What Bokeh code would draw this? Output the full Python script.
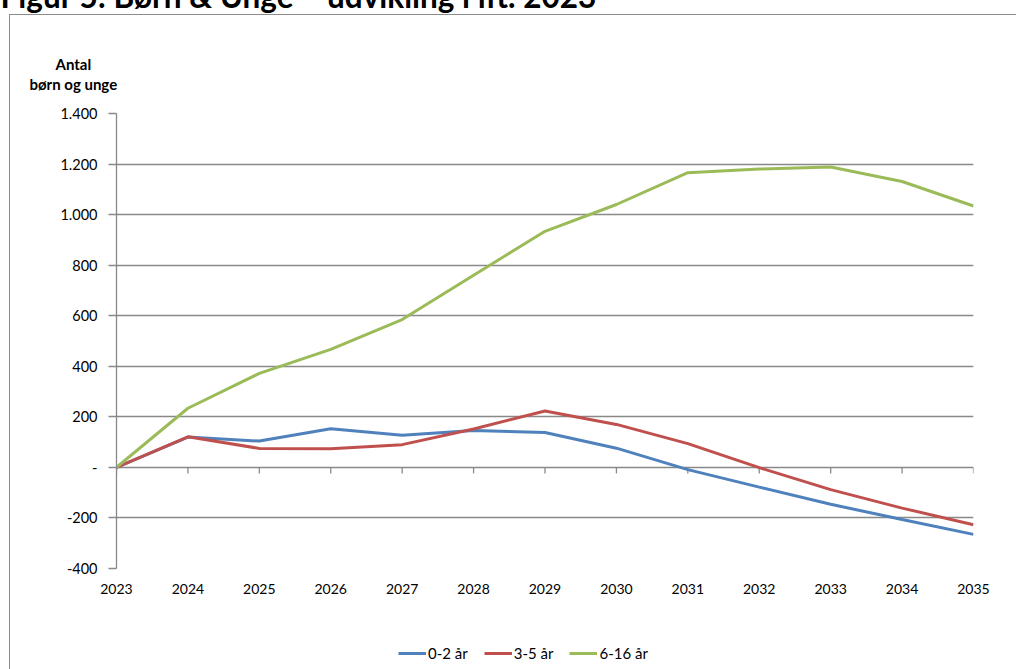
from bokeh.plotting import figure
from bokeh.layouts import column
from bokeh.models import Range1d, FixedTicker, Legend, LegendItem, Title, InlineStyleSheet
from bokeh.embed import file_html
from bokeh.resources import INLINE

# Change in number of children and young people relative to 2023
years = [2023, 2024, 2025, 2026, 2027, 2028, 2029, 2030, 2031, 2032, 2033, 2034, 2035]
age_0_2 = [0, 120, 104, 153, 127, 146, 138, 76, -9, -78, -146, -206, -265]
age_3_5 = [0, 121, 75, 74, 90, 152, 223, 170, 94, -1, -88, -161, -227]
age_6_16 = [0, 234, 372, 467, 585, 760, 934, 1040, 1166, 1180, 1188, 1131, 1034]

series_names = ["0-2 år", "3-5 år", "6-16 år"]
series_colors = ["#4F81BD", "#C0504D", "#9BBB59"]
series_values = [age_0_2, age_3_5, age_6_16]

y_ticks = [-400, -200, 0, 200, 400, 600, 800, 1000, 1200, 1400]
y_tick_labels = ["-400", "-200", "-", "200", "400", "600", "800", "1.000", "1.200", "1.400"]

title_text = "Figur 5: Børn & Unge – udvikling i ift. 2023"
y_title = ["Antal", "børn og unge"]

FONT = "Lato"
GRID = "#898989"
FRAME = "#8c8c8c"

W, H = 1016, 669
SHIFT = 24                      # page is pulled up so the caption runs off the top
LEG_H = 39                      # strip under the chart holding the legend
left, right, top, bottom = 116, 43, 113 + SHIFT, 62

p = figure(width=W, height=H + SHIFT - LEG_H, output_backend="svg", toolbar_location=None,
           title_location=None,
           x_range=Range1d(years[0], years[-1]),
           y_range=Range1d(y_ticks[0], y_ticks[-1]),
           min_border_left=left, min_border_right=right,
           min_border_top=top, min_border_bottom=bottom)
p.outline_line_color = None
p.background_fill_color = "white"
p.border_fill_color = "white"

# outer chart frame (left and top edges; the rest runs past the page)
p.stylesheets = [InlineStyleSheet(css=f"""
:host {{ position: relative; }}
:host::after {{
  content: ""; position: absolute; pointer-events: none;
  left: 9px; top: {14 + SHIFT}px;
  width: calc(100% - 9px); height: calc(100% - {14 + SHIFT}px);
  box-sizing: border-box;
  border-left: 1.5px solid {FRAME}; border-top: 1.5px solid {FRAME};
}}
""")]

# y axis
yax = p.yaxis[0]
yax.ticker = FixedTicker(ticks=y_ticks)
yax.major_label_overrides = {t: s for t, s in zip(y_ticks, y_tick_labels)}
yax.axis_line_color = GRID
yax.axis_line_width = 1.3
yax.major_tick_line_color = GRID
yax.major_tick_line_width = 1.3
yax.major_tick_out = 8
yax.major_tick_in = 0
yax.minor_tick_line_color = None
yax.major_label_standoff = 11
yax.major_label_text_font = FONT
yax.major_label_text_font_size = "14.5px"
yax.major_label_text_color = "#000000"

# x axis: labels only, placed below the plot area
xax = p.xaxis[0]
xax.ticker = FixedTicker(ticks=years)
xax.axis_line_color = None
xax.major_tick_line_color = None
xax.minor_tick_line_color = None
xax.major_tick_out = 0
xax.major_tick_in = 0
xax.major_label_standoff = 15
xax.major_label_text_font = FONT
xax.major_label_text_font_size = "14px"
xax.major_label_text_color = "#000000"

p.xgrid.grid_line_color = None
p.ygrid.ticker = FixedTicker(ticks=y_ticks)
p.ygrid.grid_line_color = GRID
p.ygrid.grid_line_width = 1.3

# tick marks hanging down from the zero line
frame_h = H + SHIFT - LEG_H - top - bottom
units_per_px = (y_ticks[-1] - y_ticks[0]) / frame_h
tick_len = 6 * units_per_px
p.segment(x0=years, y0=[0] * len(years), x1=years, y1=[-tick_len] * len(years),
          line_color=GRID, line_width=1.3)

for vals, color in zip(series_values, series_colors):
    p.line(years, vals, line_color=color, line_width=3)


def spacer(height):
    return Title(text=" ", text_font_size="1px", standoff=max(height - 3, 0))


def heading(text, size, offset):
    return Title(text=text, align="left", offset=offset, standoff=0,
                 vertical_align="top", text_font=FONT, text_font_style="bold",
                 text_font_size=size, text_color="#000000")


t_main = heading(title_text, "31.5px", -left)
t_antal = heading(y_title[0], "15px", -61)
t_born = heading(y_title[1], "15px", -87)

# stacked upwards from the plot area: y axis heading, then the caption
p.above = [spacer(19), t_born, t_antal, spacer(38), t_main]

# legend strip; its frame lines up with the chart's plot area
lg = figure(width=W, height=LEG_H, output_backend="svg", toolbar_location=None,
            x_range=Range1d(0, 1), y_range=Range1d(0, 1),
            min_border=0, outline_line_color=None)
lg.axis.visible = False
lg.grid.visible = False
lg.border_fill_color = "white"
lg.background_fill_color = "white"
lg.stylesheets = [InlineStyleSheet(css=f"""
:host {{ position: relative; }}
:host::after {{
  content: ""; position: absolute; pointer-events: none;
  left: 9px; top: 0; width: 2px; height: 100%;
  box-sizing: border-box; border-left: 1.5px solid {FRAME};
}}
""")]
# legend keys carry the series styles; their data lie outside this strip's view
keys = [lg.line(years, vals, line_color=c, line_width=3)
        for vals, c in zip(series_values, series_colors)]
legend = Legend(items=[LegendItem(label=n, renderers=[r]) for n, r in zip(series_names, keys)],
                orientation="horizontal", location=(282, 6),
                border_line_color=None, background_fill_alpha=0,
                padding=0, margin=0, spacing=16,
                glyph_width=28, glyph_height=20, label_height=20,
                label_standoff=2,
                label_text_font=FONT, label_text_font_size="15px",
                label_text_color="#000000")
lg.add_layout(legend, "center")

page = column(p, lg, spacing=0, margin=(-SHIFT, 0, 0, 0))

open("out.html", "w").write(file_html(page, INLINE))
